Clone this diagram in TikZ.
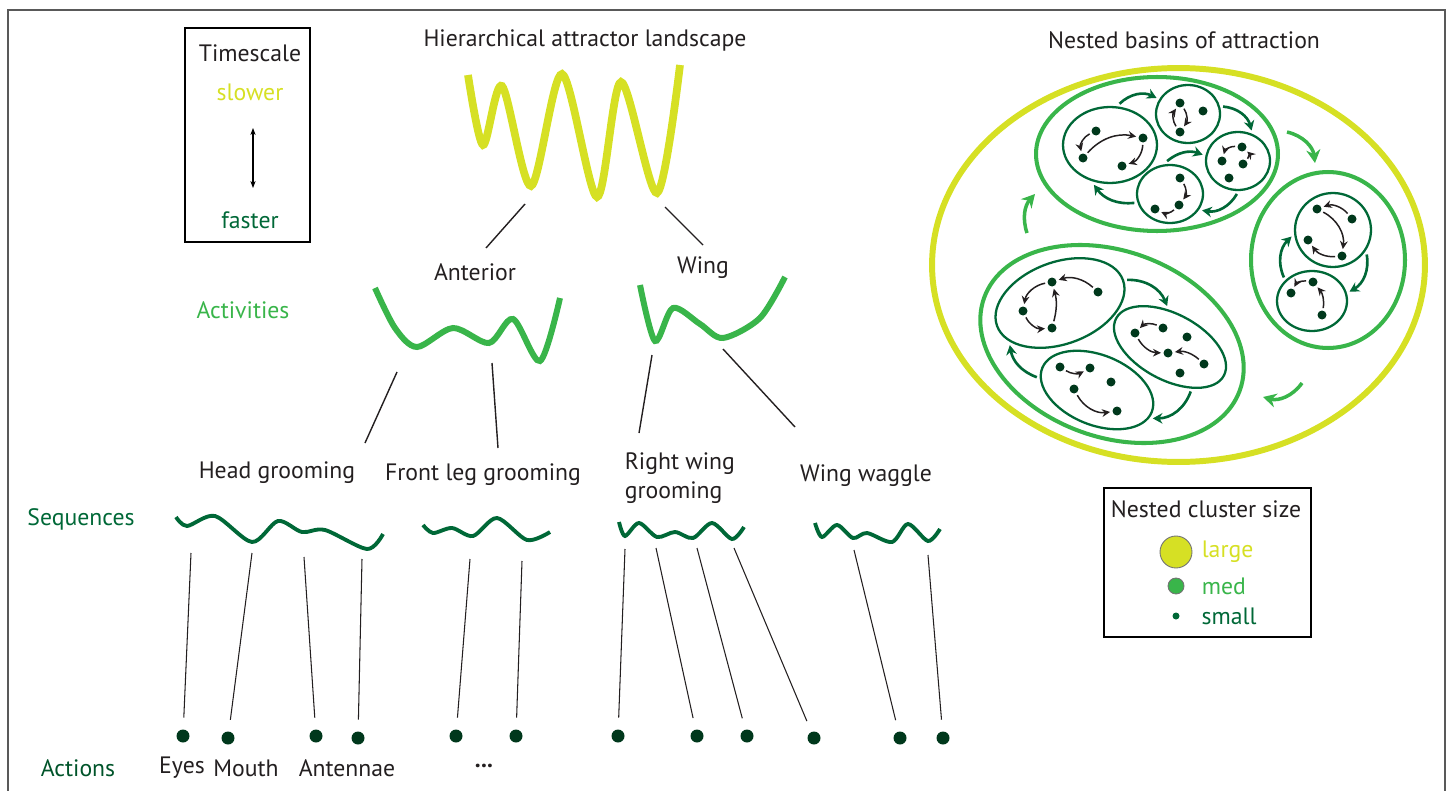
\documentclass[tikz,border=0pt]{standalone}
\usepackage{fontspec}
\setmainfont{PT Sans}
\usepackage{xcolor}
\usepackage{tikz}
\usetikzlibrary{shapes.geometric, arrows.meta, positioning}

\definecolor{slowcol}{RGB}{214,224,36}
\definecolor{medcol}{RGB}{57,181,74}
\definecolor{fastcol}{RGB}{0,104,55}
\definecolor{dotcol}{RGB}{0,56,28}
\definecolor{actcol}{RGB}{0,84,42}
\definecolor{inkcol}{RGB}{35,31,32}

\tikzset{
  txt/.style={font=\fontsize{13.5}{16.5}\selectfont, inner sep=2pt, text=inkcol},
  frame/.style={draw=black!65, line width=0.6pt},
  legendbox/.style={rectangle, draw=black, line width=1.2pt, inner sep=0pt},
  landscape/.style={draw=slowcol, line width=4.4pt},
  activity/.style={draw=medcol, line width=3.4pt},
  sequence/.style={draw=fastcol, line width=2.2pt},
  link/.style={draw=inkcol, line width=0.8pt},
  stem/.style={draw=inkcol, line width=0.6pt, shorten >=0.23cm},
  action/.style={circle, fill=dotcol, minimum size=0.26cm, inner sep=0pt},
  bigbasin/.style={ellipse, draw=slowcol, line width=3.4pt, inner sep=0pt},
  basin/.style={ellipse, draw=medcol, line width=2.3pt, inner sep=0pt},
  subbasin/.style={ellipse, draw=fastcol, line width=1.3pt, inner sep=0pt, outer sep=0.08cm},
  state/.style={circle, fill=dotcol, minimum size=0.18cm, inner sep=0pt},
  hop/.style={-{Stealth[length=4.6pt, width=4.4pt]}, draw=inkcol, line width=0.85pt,
              shorten <=1.2pt, shorten >=1.2pt},
  flow/.style={-{Stealth[length=5.5pt, width=6pt]}, draw=fastcol, line width=1.5pt},
  bigflow/.style={-{Stealth[length=7.5pt, width=8pt]}, draw=medcol, line width=2pt},
}

\begin{document}
\begin{tikzpicture}[x=0.02cm, y=-0.02cm]
  \useasboundingbox (0,0) rectangle (1448,791);
  \draw[frame] (8,10) rectangle (1445,810);

  % Timescale legend
  \node[legendbox, minimum width=2.5cm, minimum height=4.28cm] (timebox) at (247.5,135) {};
  \node[txt] (timescale) at (250,53) {Timescale};
  \node[txt, text=slowcol] (slower) at (250,92) {slower};
  \node[txt, text=fastcol] (faster) at (250,220) {faster};
  \coordinate (tsup) at (253,128);
  \coordinate (tsdown) at (253,188);
  \draw[{Stealth[length=4pt]}-{Stealth[length=4pt]}, line width=0.6pt] (tsup) -- (tsdown);

  % Level names
  \node[txt, text=medcol] (activities) at (243,310) {Activities};
  \node[txt, text=fastcol] (sequences) at (81,519) {Sequences};
  \node[txt, text=actcol] (actions) at (78,768) {Actions};

  % Landscape
  \node[txt] (landtitle) at (585,40) {Hierarchical attractor landscape};
  \draw[landscape] plot[smooth] coordinates {(468,75) (483,145) (502,86) (531,186)
    (562,74) (597,197) (621,82) (657,193) (680,65)};

  % Activities
  \node[txt] (anterior) at (475,272) {Anterior};
  \node[txt] (wing) at (703,268) {Wing};
  \coordinate (la1) at (525,204);
  \coordinate (la2) at (486,248);
  \coordinate (lw1) at (665,207);
  \coordinate (lw2) at (703,245);
  \draw[link] (la1) -- (la2);
  \draw[link] (lw1) -- (lw2);
  \draw[activity] plot[smooth] coordinates {(375,288) (395,328) (417,347) (453,328)
    (489,343) (513,319) (540,361) (560,298)};
  \draw[activity] plot[smooth] coordinates {(640,285) (655,341) (673,308) (700,324)
    (723,338) (760,318) (785,277)};

  % Sequences
  \node[txt] (head) at (277,473) {Head grooming};
  \node[txt] (frontleg) at (483,475) {Front leg grooming};
  \node[txt, align=left, anchor=west] (rightwing) at (621,478) {Right wing\\grooming};
  \node[txt] (waggle) at (866,476) {Wing waggle};
  \coordinate (ah1) at (397,372);
  \coordinate (ah2) at (365,443);
  \coordinate (af1) at (492,363);
  \coordinate (af2) at (498,448);
  \coordinate (wr1) at (652,355);
  \coordinate (wr2) at (639,433);
  \coordinate (ww1) at (723,349);
  \coordinate (ww2) at (795,427);
  \draw[link] (ah1) -- (ah2);
  \draw[link] (af1) -- (af2);
  \draw[link] (wr1) -- (wr2);
  \draw[link] (ww1) -- (ww2);
  \draw[sequence] plot[smooth] coordinates {(176,517) (187,526) (215,516) (252,542)
    (278,521) (302,532) (325,530) (367,549) (383,534)};
  \draw[sequence] plot[smooth] coordinates {(423,525) (433,533) (452,528) (473,536)
    (497,518) (527,540) (550,532)};
  \draw[sequence] plot[smooth] coordinates {(619,522) (625,536) (639,523) (657,537)
    (675,532) (693,538) (712,523) (732,539) (744,527)};
  \draw[sequence] plot[smooth] coordinates {(815,523) (822,537) (837,525) (853,538)
    (867,533) (892,542) (908,524) (928,541) (940,529)};

  % Actions
  \foreach \i/\x/\y in {1/183/736, 2/228/738, 3/316/736, 4/358/738, 5/456/736, 6/516/736,
                        7/618/736, 8/697/736, 9/747/736, 10/814/738, 11/900/738, 12/943/738}
    \node[action] (act\i) at (\x,\y) {};
  \foreach \i/\x/\y in {1/191/553, 2/252/553, 3/304/557, 4/362/559, 5/470/559, 6/522/561,
                        7/625/549, 8/656/548, 9/697/548, 10/734/548, 11/854/550, 12/928/555}
    \coordinate (stem\i) at (\x,\y);
  \foreach \i in {1,...,12}
    \draw[stem] (stem\i) -- (act\i);
  \node[txt] (eyes) at (182,768) {Eyes};
  \node[txt] (mouth) at (246,768) {Mouth};
  \node[txt] (antennae) at (347,768) {Antennae};
  \node[txt] (more) at (484,766) {\textbf{...}};

  % Nested basins
  \node[txt] (basintitle) at (1184,40) {Nested basins of attraction};
  \node[bigbasin, minimum width=9.86cm, minimum height=7.88cm] (world) at (1178.5,265) {};
  \node[basin, minimum width=4.84cm, minimum height=3.08cm] (top) at (1157,154) {};
  \node[basin, minimum width=3.08cm, minimum height=3.52cm] (right) at (1328,260) {};
  \node[basin, minimum width=5.44cm, minimum height=3.72cm, rotate=-20] (left) at (1112,344) {};

  \node[subbasin, minimum width=1.88cm, minimum height=1.52cm] (ca) at (1110,145) {};
  \node[subbasin, minimum width=1.28cm, minimum height=1.16cm] (cb) at (1188,114) {};
  \node[subbasin, minimum width=1.28cm, minimum height=1.16cm] (cc) at (1238,161) {};
  \node[subbasin, minimum width=1.32cm, minimum height=1.16cm] (cd) at (1170,194) {};
  \node[subbasin, minimum width=1.52cm, minimum height=1.48cm] (ce) at (1333,230) {};
  \node[subbasin, minimum width=1.40cm, minimum height=1.20cm] (cf) at (1312,301) {};
  \node[subbasin, minimum width=2.68cm, minimum height=1.64cm, rotate=20] (cg) at (1060,303) {};
  \node[subbasin, minimum width=2.44cm, minimum height=1.32cm, rotate=-28] (ch) at (1170,347) {};
  \node[subbasin, minimum width=2.36cm, minimum height=1.40cm, rotate=-22] (ci) at (1097,390) {};

  % States
  \foreach \n/\x/\y in {a1/1096/131, a2/1083/158, a3/1143/138, a4/1122/166,
                        b1/1180/103, b2/1203/111, b3/1180/132,
                        c1/1242/147, c2/1222/161, c3/1243/164, c4/1229/178,
                        d1/1180/178, d2/1179/205, d3/1155/209,
                        e1/1317/209, e2/1352/219, e3/1308/240, e4/1342/256,
                        f1/1313/282, f2/1291/293, f3/1322/315,
                        g1/1052/282, g2/1098/292, g3/1023/311, g4/1052/328,
                        h1/1135/333, h2/1163/328, h3/1187/337, h4/1168/353, h5/1204/364, h6/1180/373,
                        i1/1060/367, i2/1090/368, i3/1111/382, i4/1074/389, i5/1117/411}
    \node[state] (\n) at (\x,\y) {};

  % Transitions between states
  \draw[hop] (a1) to[bend right=40] (a2);
  \draw[hop] (a2) to[bend left=30] (a3);
  \draw[hop] (a3) to[bend left=35] (a4);
  \draw[hop] (b3) to[bend left=35] (b1);
  \draw[hop] (b1) to[bend left=35] (b3);
  \draw[hop] (c1) to[bend right=40] (c2);
  \draw[hop] (c3) to[bend right=45] (c1);
  \draw[hop] (d1) to[bend left=35] (d2);
  \draw[hop] (d2) to[bend left=35] (d3);
  \draw[hop] (e2) to[bend right=35] (e1);
  \draw[hop] (e1) to[bend left=35] (e4);
  \draw[hop] (e4) to[bend left=30] (e3);
  \draw[hop] (f1) to[bend right=35] (f2);
  \draw[hop] (f3) to[bend right=25] (f1);
  \draw[hop] (g2) to[bend right=30] (g1);
  \draw[hop] (g1) to[bend right=35] (g3);
  \draw[hop] (g3) to[bend right=35] (g4);
  \draw[hop] (g4) to[bend right=15] (g1);
  \draw[hop] (h2) to[bend right=35] (h1);
  \draw[hop] (h1) to[bend right=30] (h4);
  \draw[hop] (h5) to[bend right=25] (h4);
  \draw[hop] (i1) to[bend right=30] (i2);
  \draw[hop] (i4) to[bend right=35] (i5);

  % Transitions between sub-basins
  \draw[flow] (ca.77) to[bend left=35] (cb.153);
  \draw[flow] (cb.12) to[bend left=35] (cc.66);
  \draw[flow] (cd.95) to[bend left=30] (cc.170);
  \draw[flow] (cc.268) to[bend left=35] (cd.-27);
  \draw[flow] (cd.194) to[bend left=30] (ca.248);
  \draw[flow] (ce.-36) to[bend left=35] (cf.14);
  \draw[flow] (cf.140) to[bend left=35] (ce.189);
  \draw[flow] (cg.-1) to[bend left=35] (ch.122);
  \draw[flow] (ch.-37) to[bend left=35] (ci.-5);
  \draw[flow] (ci.190) to[bend left=30] (cg.200);

  % Transitions between basins
  \coordinate (tr1) at (1287,132);
  \coordinate (tr2) at (1315,163);
  \coordinate (rl1) at (1302,383);
  \coordinate (rl2) at (1263,397);
  \coordinate (lt1) at (1027,233);
  \coordinate (lt2) at (1035,194);
  \draw[bigflow] (tr1) to[bend left=35] (tr2);
  \draw[bigflow] (rl1) to[bend left=35] (rl2);
  \draw[bigflow] (lt1) to[bend left=30] (lt2);

  % Cluster size legend
  \node[legendbox, minimum width=4.14cm, minimum height=2.98cm] (sizebox) at (1207.5,562.5) {};
  \node[txt] (sizetitle) at (1206,509) {Nested cluster size};
  \node[circle, fill=slowcol, draw=black!55, line width=0.5pt, minimum size=0.64cm, inner sep=0pt] (lglarge) at (1176,552) {};
  \node[circle, fill=medcol, draw=black!55, line width=0.5pt, minimum size=0.32cm, inner sep=0pt] (lgmed) at (1176,586) {};
  \node[circle, fill=fastcol, minimum size=0.14cm, inner sep=0pt] (lgsmall) at (1176,616) {};
  \node[txt, text=slowcol, right=0.11cm of lglarge] (large) {large};
  \node[txt, text=medcol, right=0.27cm of lgmed] (med) {med};
  \node[txt, text=fastcol, right=0.36cm of lgsmall] (small) {small};

\end{tikzpicture}
\end{document}
